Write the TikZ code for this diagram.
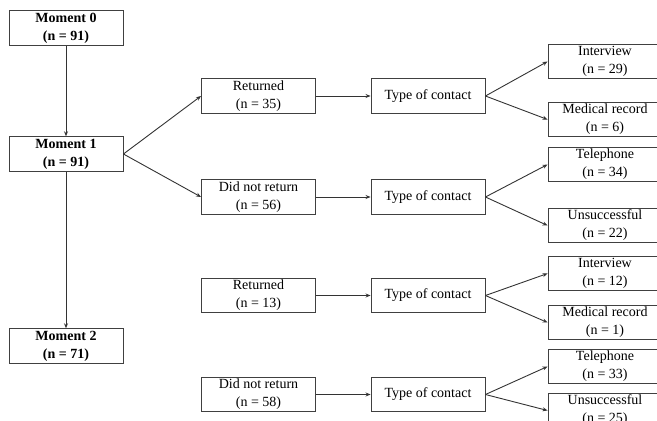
\documentclass[tikz,border=0pt]{standalone}
\usepackage{fontspec}
\setmainfont{Liberation Serif}
\usetikzlibrary{arrows.meta}

\tikzset{
  box/.style={draw=black!75,line width=0.9pt,minimum width=114pt,minimum height=34.5pt,
    inner sep=0pt,align=center,font=\fontsize{14}{18}\selectfont},
  mbox/.style={box,font=\fontsize{14}{18}\selectfont\bfseries},
  arr/.style={draw=black!80,line width=0.9pt,-{Stealth[length=5pt,width=4pt]}},
}

\begin{document}
\begin{tikzpicture}[x=1pt,y=-1pt]
    \useasboundingbox (0,0) rectangle (657,421);
    \clip (0,0) rectangle (657,421);
    % moments
    \node[mbox] (m0) at (66,28) {Moment 0\\(n = 91)};
    \node[mbox] (m1) at (66,154) {Moment 1\\(n = 91)};
    \node[mbox] (m2) at (66,346) {Moment 2\\(n = 71)};
    % returned or not
    \node[box] (ret1) at (258.5,96) {Returned\\(n = 35)};
    \node[box] (dnr1) at (258.5,197) {Did not return\\(n = 56)};
    \node[box] (ret2) at (258.5,295.5) {Returned\\(n = 13)};
    \node[box] (dnr2) at (258.5,394.5) {Did not return\\(n = 58)};
    % type of contact
    \node[box] (toc1) at (428,96) {Type of contact};
    \node[box] (toc2) at (428,197) {Type of contact};
    \node[box] (toc3) at (428,295.5) {Type of contact};
    \node[box] (toc4) at (428,394.5) {Type of contact};
    % outcomes
    \node[box] (int1) at (605,61.5) {Interview\\(n = 29)};
    \node[box] (med1) at (605,119.5) {Medical record\\(n = 6)};
    \node[box] (tel1) at (605,164.5) {Telephone\\(n = 34)};
    \node[box] (uns1) at (605,225.5) {Unsuccessful\\(n = 22)};
    \node[box] (int2) at (605,273.5) {Interview\\(n = 12)};
    \node[box] (med2) at (605,322.5) {Medical record\\(n = 1)};
    \node[box] (tel2) at (605,366.5) {Telephone\\(n = 33)};
    \node[box] (uns2) at (605,410.5) {Unsuccessful\\(n = 25)};
    % connectors
    \draw[arr] (m0) -- (m1);
    \draw[arr] (m1) -- (m2);
    \draw[arr] (m1.east) -- (ret1.west);
    \draw[arr] (m1.east) -- (dnr1.west);
    \draw[arr] (ret1) -- (toc1);
    \draw[arr] (dnr1) -- (toc2);
    \draw[arr] (ret2) -- (toc3);
    \draw[arr] (dnr2) -- (toc4);
    \draw[arr] (toc1.east) -- (int1.west);
    \draw[arr] (toc1.east) -- (med1.west);
    \draw[arr] (toc2.east) -- (tel1.west);
    \draw[arr] (toc2.east) -- (uns1.west);
    \draw[arr] (toc3.east) -- (int2.west);
    \draw[arr] (toc3.east) -- (med2.west);
    \draw[arr] (toc4.east) -- (tel2.west);
    \draw[arr] (toc4.east) -- (uns2.west);
\end{tikzpicture}
\end{document}
